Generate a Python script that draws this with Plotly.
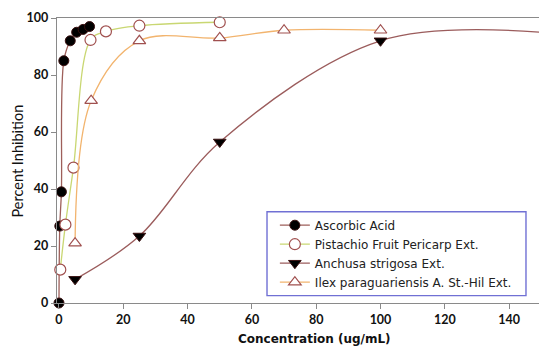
import plotly.graph_objects as go

# Data
asc_x = [0, 0.25, 0.75, 1.5, 3.5, 5.5, 7.5, 9.5]
asc_y = [0, 27, 39, 85, 92, 95, 96, 97]

pis_x = [0.4, 2, 4.5, 9.8, 14.6, 25, 50]
pis_y = [11.7, 27.5, 47.5, 92.3, 95.3, 97.3, 98.5]

anc_x = [5, 25, 50, 100, 150]
anc_y = [8.3, 23.5, 56.5, 92, 95]

ilx_x = [5, 10, 25, 50, 70, 100]
ilx_y = [21, 71, 92, 93, 95.7, 95.7]

x_ticks = [0, 20, 40, 60, 80, 100, 120, 140]
y_ticks = [0, 20, 40, 60, 80, 100]

x_title = "Concentration (ug/mL)"
y_title = "Percent Inhibition"

edge = "#a0504f"
fig = go.Figure()

fig.add_trace(go.Scatter(
    x=asc_x, y=asc_y, name="Ascorbic Acid", mode="lines+markers",
    line=dict(color="#9e5f5a", width=1.3, shape="spline", smoothing=1),
    marker=dict(symbol="circle", size=10, color="black", line=dict(color="#3a1010", width=1)),
    cliponaxis=False))
fig.add_trace(go.Scatter(
    x=pis_x, y=pis_y, name="Pistachio Fruit Pericarp Ext.", mode="lines+markers",
    line=dict(color="#c9d772", width=1.3, shape="spline", smoothing=1),
    marker=dict(symbol="circle", size=11, color="white", line=dict(color=edge, width=1.2)),
    cliponaxis=False))
fig.add_trace(go.Scatter(
    x=anc_x, y=anc_y, name="Anchusa strigosa Ext.", mode="lines+markers",
    line=dict(color="#9b5c5c", width=1.3, shape="spline", smoothing=1),
    marker=dict(symbol="triangle-down", size=11, color="black", line=dict(color="#3a1010", width=1)),
    cliponaxis=False))
fig.add_trace(go.Scatter(
    x=ilx_x, y=ilx_y, name="Ilex paraguariensis A. St.-Hil Ext.", mode="lines+markers",
    line=dict(color="#f2b46e", width=1.3, shape="spline", smoothing=1),
    marker=dict(symbol="triangle-up", size=11, color="white", line=dict(color=edge, width=1.2)),
    cliponaxis=False))

tick_font = dict(family="Lato", size=12.5, color="#111111", weight="bold")
fig.update_layout(
    width=539, height=346,
    margin=dict(l=57, r=0, t=18, b=43, autoexpand=False),
    paper_bgcolor="white", plot_bgcolor="white",
    showlegend=True,
    legend=dict(
        x=0.452, y=0.173, xanchor="left", yanchor="middle",
        bgcolor="rgba(255,255,255,0)", borderwidth=0,
        font=dict(family="DejaVu Sans", size=12, color="#222222"),
        tracegroupgap=0,
    ),
    shapes=[dict(
        type="rect", xref="paper", yref="paper",
        x0=0.4357, x1=0.973, y0=0.026, y1=0.32,
        line=dict(color="#7070d4", width=1.4), fillcolor="white", layer="above",
    )],
    xaxis=dict(
        range=[-0.62, 149.3], tickvals=x_ticks, ticktext=[str(v) for v in x_ticks],
        showgrid=False, zeroline=False, showline=True, linecolor="#8a8a8a", linewidth=1.3,
        mirror=True, ticks="outside", ticklen=5, tickcolor="#8a8a8a",
        tickfont=tick_font, automargin=False,
    ),
    yaxis=dict(
        range=[0, 100], tickvals=y_ticks, ticktext=[str(v) for v in y_ticks],
        showgrid=False, zeroline=False, showline=True, linecolor="#8a8a8a", linewidth=1.3,
        ticks="outside", ticklen=5, tickcolor="#8a8a8a",
        tickfont=tick_font, automargin=False,
    ),
    annotations=[
        dict(text=x_title, xref="paper", yref="paper", x=0.535, y=-0.095,
             xanchor="center", yanchor="top", showarrow=False,
             font=dict(family="DejaVu Sans", size=12, color="#111111", weight="bold")),
        dict(text=y_title, xref="paper", yref="paper", x=-0.081, y=0.5,
             xanchor="center", yanchor="middle", showarrow=False, textangle=-90,
             font=dict(family="Lato", size=14.5, color="#111111")),
    ],
)

fig.write_html("out.html", config={"displayModeBar": False},
               post_script="document.body.style.margin='0px';")
